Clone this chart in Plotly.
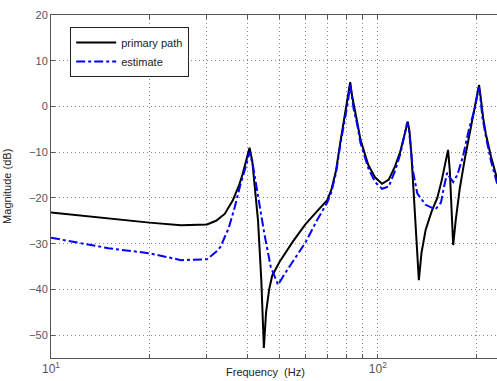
import plotly.graph_objects as go
import math

freq_primary = [10, 12, 15, 20, 25, 30, 32, 34, 36, 37.5, 38.5, 39.5, 40.5, 41.3, 42, 43, 44, 44.8,
                45.5, 46.5, 47.5, 50, 55, 60, 65, 70, 72, 74.5, 76.7, 79.3, 81, 82.3, 83.3, 84.3,
                86.5, 88.5, 93.5, 98, 103, 108, 113, 117, 120, 122, 123.5, 125, 126.5, 129, 131.5,
                133.5, 136, 140, 146, 152, 157, 161, 164, 166, 168, 170, 173, 178, 185, 192, 198,
                202, 204, 206, 210, 214, 222, 232]
mag_primary = [-23.2, -23.8, -24.6, -25.4, -26.0, -25.8, -25.0, -23.5, -20.5, -17.5, -15, -12, -9.0,
               -12, -17, -25, -38, -52.8, -45, -40, -37.0, -34, -29.5, -25.8, -23, -20.5, -18.3,
               -14, -8, -1.9, 1.5, 5.3, 2.5, 0.3, -3.5, -7.3, -12.8, -15.5, -16.9, -16, -13, -10,
               -7, -4.8, -3.3, -5.5, -10, -20, -30, -38, -32, -27, -23, -20, -16, -12, -9.5, -14,
               -22, -30.3, -25, -18, -11, -5, -0.5, 2.5, 4.7, 2.5, -2.5, -6, -11, -16]

freq_estimate = [10, 12, 15, 20, 25, 30, 32, 33, 35, 36.5, 38, 39.5, 40.5, 41.5, 43, 45, 47, 49.5,
                 52, 56, 60, 65, 70, 72, 74.5, 76.7, 79.3, 81, 82.3, 83.3, 84.3, 86.5, 88.5, 93.5,
                 98, 103, 108, 113, 117, 120, 121.5, 123, 124.5, 126, 128, 132, 140, 150, 156, 160,
                 163, 166, 170, 175, 182, 190, 198, 201.5, 203.5, 205.5, 209, 214, 222, 232]
mag_estimate = [-28.7, -29.8, -31.0, -32.1, -33.6, -33.4, -31.8, -30.7, -26.5, -22, -17, -13, -10,
                -13, -20, -28, -35, -39, -36.5, -33, -29.8, -25, -21, -18.8, -14.5, -8.5, -2.5, 1,
                5, 2, -0.5, -4, -8, -13.5, -16.5, -18, -17.5, -14, -10.5, -7, -5, -3.5, -5, -8.5,
                -14, -19, -21.5, -22.5, -21, -17, -14.5, -15.5, -16.5, -15, -11, -5, -0.5, 2.5,
                4.5, 2.5, -2.5, -6.5, -12, -17]

x_tickvals = [10, 20, 30, 40, 50, 60, 70, 80, 90, 100, 200]
x_ticktext = ["10<sup>1</sup>", "", "", "", "", "", "", "", "", "10<sup>2</sup>", ""]
y_tickvals = [-50, -40, -30, -20, -10, 0, 10, 20]

font_family = "Arial, Liberation Sans, sans-serif"

fig = go.Figure()
fig.add_trace(go.Scatter(x=freq_primary, y=mag_primary, mode="lines", name="primary path",
                         line=dict(color="black", width=2)))
fig.add_trace(go.Scatter(x=freq_estimate, y=mag_estimate, mode="lines", name="estimate",
                         line=dict(color="#0000ff", width=2, dash="dashdot")))

fig.update_layout(
    width=497, height=381,
    margin=dict(l=51, r=0, t=15, b=23),
    paper_bgcolor="white", plot_bgcolor="white",
    font=dict(family=font_family, size=11, color="#444"),
    showlegend=True,
    legend=dict(x=0.043, y=0.965, xanchor="left", yanchor="top",
                bordercolor="#222", borderwidth=1, bgcolor="white",
                font=dict(size=11, color="#222"), tracegroupgap=0,
                itemwidth=40),
    xaxis=dict(type="log", range=[1, math.log10(231.5)],
               tickvals=x_tickvals, ticktext=x_ticktext,
               ticks="inside", ticklen=4, tickcolor="#555",
               showline=True, linecolor="#555", linewidth=1, mirror="ticks",
               showgrid=True, gridcolor="#888", griddash="1px,3px", gridwidth=1,
               zeroline=False, tickfont=dict(size=12, color="#555")),
    yaxis=dict(range=[-55, 20], tickvals=y_tickvals,
               ticks="inside", ticklen=4, tickcolor="#555",
               showline=True, linecolor="#555", linewidth=1, mirror=False,
               showgrid=True, gridcolor="#888", griddash="1px,3px", gridwidth=1,
               zeroline=False, tickfont=dict(size=11, color="#555")),
    annotations=[
        dict(text="Frequency  (Hz)", xref="paper", yref="paper", x=0.482, y=-0.042,
             xanchor="center", yanchor="middle", showarrow=False,
             font=dict(size=11, color="#222")),
        dict(text="Magnitude (dB)", xref="paper", yref="paper", x=-0.1, y=0.5,
             xanchor="center", yanchor="middle", showarrow=False, textangle=-90,
             font=dict(size=11, color="#222")),
    ],
)

fig.write_html("out.html")
